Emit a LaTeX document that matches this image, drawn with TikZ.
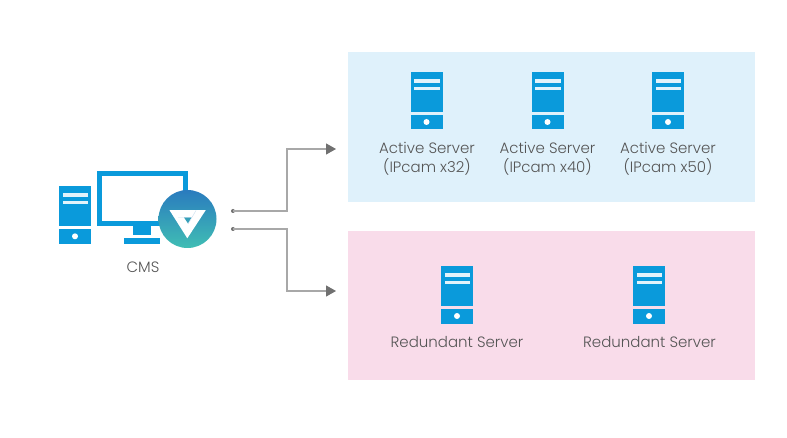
\documentclass[tikz,border=0pt]{standalone}
\usepackage{fontspec}
\setmainfont{Poppins Light}
\usetikzlibrary{arrows.meta,positioning}
\definecolor{iconblue}{HTML}{0A9ADB}
\definecolor{panelblue}{HTML}{DFF1FB}
\definecolor{panelpink}{HTML}{F9DCEA}
\definecolor{txt}{HTML}{555555}
\definecolor{wire}{HTML}{A8A8A8}
\definecolor{tip}{HTML}{707070}
\definecolor{logotop}{HTML}{2A7BBE}
\definecolor{logobot}{HTML}{40BEB4}
\tikzset{
 x=1pt,y=-1pt,
 lbl/.style={text=txt,font=\fontsize{15}{19}\selectfont,align=center,inner sep=0pt},
 panel/.style={anchor=north west,inner sep=0pt,minimum width=407pt},
 dotnode/.style={circle,fill=tip,inner sep=0pt,minimum size=4pt},
 wirearrow/.style={draw=wire,line width=1.2pt,-{Triangle[length=10pt,width=11pt,color=tip]}},
 pics/serverpic/.style={code={
   \fill[iconblue] (0,0) rectangle (32,40);
   \fill[iconblue] (0,43) rectangle (32,57.5);
   \fill[white!88!iconblue] (3.5,7) rectangle (29,10.8);
   \fill[white!88!iconblue] (3.5,14.6) rectangle (29,18);
   \fill[white] (16,50) circle (3);
 }}
}
\begin{document}
\begin{tikzpicture}
\useasboundingbox (0,0) rectangle (787,438);
\fill[white] (0,0) rectangle (787,438);
\node[panel,fill=panelblue,minimum height=150pt] (activepanel) at (348,52) {};
\node[panel,fill=panelpink,minimum height=149pt] (redundantpanel) at (348,231) {};

\pic at (410.5,72) {serverpic};
\pic at (531.5,72) {serverpic};
\pic at (652,72) {serverpic};
\pic at (441,266) {serverpic};
\pic at (633,266) {serverpic};
\node[lbl] (a1) at (427,158.5) {Active Server\\(IPcam x32)};
\node[lbl] (a2) at (547.5,158.5) {Active Server\\(IPcam x40)};
\node[lbl] (a3) at (668,158.5) {Active Server\\(IPcam x50)};
\node[lbl] (r1) at (457,342.5) {Redundant Server};
\node[lbl] (r2) at (649.5,342.5) {Redundant Server};

% CMS icon
\pic at (59,186.3) {serverpic};
\draw[iconblue,line width=5pt] (99.5,173.5) rectangle (185,223.5);
\fill[iconblue] (133.3,226) rectangle (151,235);
\fill[iconblue] (124,238) rectangle (160,244);
\node[circle,minimum size=58pt,inner sep=0pt,top color=logotop,bottom color=logobot] (logo) at (187.5,219) {};
\fill[white] (169.5,210.2) -- (205.7,210.2) -- (187.3,238.3) -- cycle;
\fill[logotop!45!logobot] (184,217.5) -- (191.5,217.5) -- (188,223.5) -- cycle;
\draw[white!75!logotop,line width=.4pt] (196,210.5) -- (188,224) (178,217.5) -- (191.5,217.5);
\node[lbl] (cms) at (143,267.5) {CMS};

% connectors
\node[dotnode] (d1) at (233,211) {};
\node[dotnode] (d2) at (233,229) {};
\coordinate (t1) at (336,149);
\coordinate (t2) at (336,291);
\draw[wirearrow] (d1.center) -- (287,211) -- (287,149) -- (t1);
\draw[wirearrow] (d2.center) -- (287,229) -- (287,291) -- (t2);
\end{tikzpicture}
\end{document}
